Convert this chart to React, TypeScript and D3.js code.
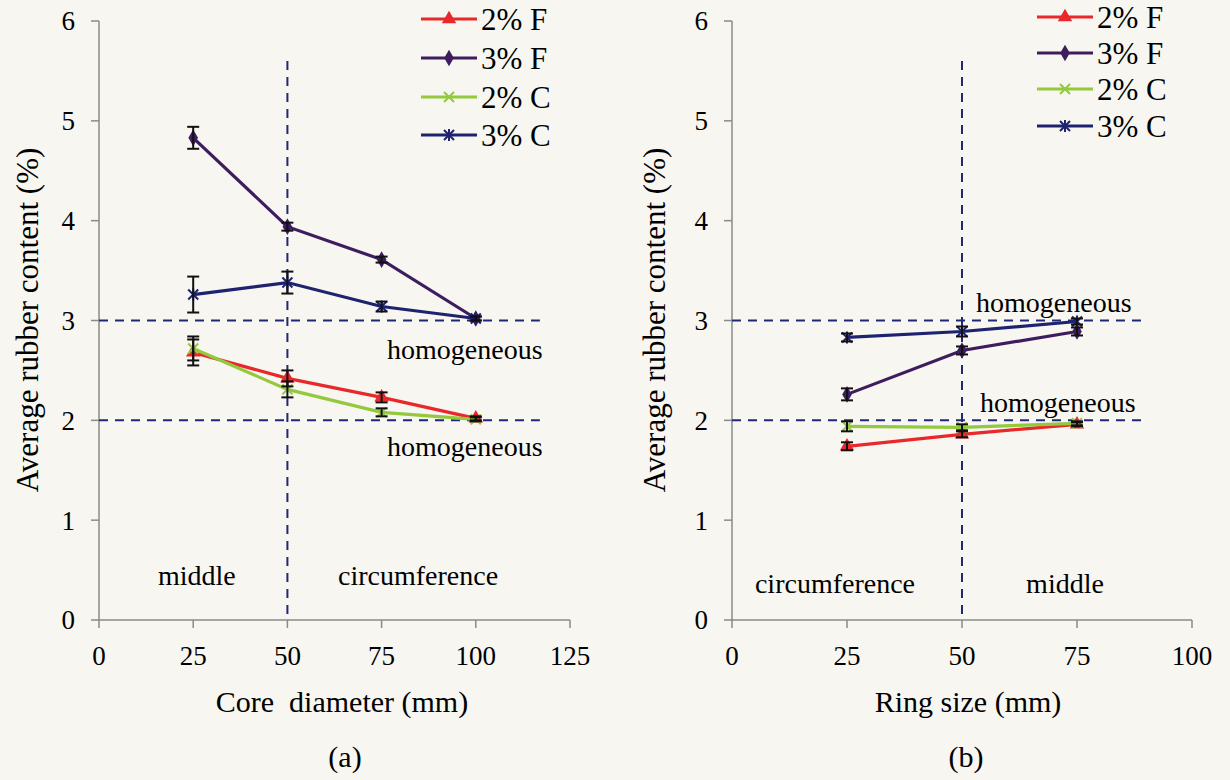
import React from 'react';
import * as d3 from 'd3';

const W = 1230;
const H = 780;

// ---------- Data ----------
const seriesNames = ['2% F', '3% F', '2% C', '3% C'];
const seriesColors = ['#e8282a', '#3e1d5e', '#94c83d', '#1e2370'];
const seriesMarkers = ['triangle', 'diamond', 'x', 'asterisk'];

// Panel (a): core diameter
const coreDiameter = [25, 50, 75, 100];
const a2F = [2.68, 2.42, 2.23, 2.02];
const a2FErr = [0.13, 0.08, 0.05, 0.02];
const a3F = [4.83, 3.94, 3.61, 3.02];
const a3FErr = [0.11, 0.04, 0.03, 0.02];
const a2C = [2.72, 2.31, 2.08, 2.01];
const a2CErr = [0.12, 0.08, 0.04, 0.02];
const a3C = [3.26, 3.38, 3.14, 3.02];
const a3CErr = [0.18, 0.11, 0.05, 0.02];

// Panel (b): ring size
const ringSize = [25, 50, 75];
const b2F = [1.74, 1.86, 1.96];
const b2FErr = [0.04, 0.03, 0.02];
const b3F = [2.26, 2.7, 2.89];
const b3FErr = [0.06, 0.04, 0.04];
const b2C = [1.94, 1.93, 1.97];
const b2CErr = [0.05, 0.03, 0.02];
const b3C = [2.83, 2.89, 2.99];
const b3CErr = [0.04, 0.05, 0.03];

const yTicks = [0, 1, 2, 3, 4, 5, 6];
const aXTicks = [0, 25, 50, 75, 100, 125];
const bXTicks = [0, 25, 50, 75, 100];

const FONT = "'Liberation Serif','Times New Roman',serif";
const DASH = '#1f2878';

function Marker({ type, x, y, color }: { type: string; x: number; y: number; color: string }) {
  const t = `translate(${x},${y})`;
  if (type === 'triangle') {
    return <path transform={t} d={d3.symbol(d3.symbolTriangle, 90)() as string} fill={color} />;
  }
  if (type === 'diamond') {
    return <path transform={t} d={d3.symbol(d3.symbolDiamond, 80)() as string} fill={color} />;
  }
  if (type === 'x') {
    return <path transform={t} d="M-5,-5L5,5M-5,5L5,-5" stroke={color} strokeWidth={2} fill="none" />;
  }
  return (
    <path transform={t} d="M-5,-5L5,5M-5,5L5,-5M0,-6L0,6" stroke={color} strokeWidth={2} fill="none" />
  );
}

type Series = { vals: number[]; errs: number[] };

function Panel(props: {
  xs: number[];
  series: Series[];
  xDomain: [number, number];
  xRange: [number, number];
  xTicks: number[];
  hEnd: number;
  legendX: number;
  legendYs: number[];
  xTitle: string;
  xTitleX: number;
  panelLabel: string;
  panelLabelX: number;
  yTitleX: number;
  texts: { t: string; x: number; y: number; anchor?: string }[];
}) {
  const x = d3.scaleLinear().domain(props.xDomain).range(props.xRange);
  const y = d3.scaleLinear().domain([0, 6]).range([620, 21]);
  const x0 = x(0);
  const line = d3
    .line<[number, number]>()
    .x((d) => x(d[0]))
    .y((d) => y(d[1]));

  return (
    <g fontFamily={FONT} fill="#000">
      {/* axes */}
      <line x1={x0} x2={x0} y1={y(0)} y2={y(6)} stroke="#8a8a8a" strokeWidth={1.5} />
      <line x1={x0} x2={x(props.xDomain[1])} y1={y(0)} y2={y(0)} stroke="#8a8a8a" strokeWidth={1.5} />
      {yTicks.map((v) => (
        <g key={'yt' + v}>
          <line x1={x0 - 8} x2={x0} y1={y(v)} y2={y(v)} stroke="#8a8a8a" strokeWidth={1.5} />
          <text x={x0 - 24} y={y(v)} dy="0.35em" textAnchor="end" fontSize={27}>
            {v}
          </text>
        </g>
      ))}
      {props.xTicks.map((v) => (
        <g key={'xt' + v}>
          <line x1={x(v)} x2={x(v)} y1={y(0)} y2={y(0) + 8} stroke="#8a8a8a" strokeWidth={1.5} />
          <text x={x(v)} y={665} textAnchor="middle" fontSize={27}>
            {v}
          </text>
        </g>
      ))}

      {/* reference lines */}
      {[2, 3].map((v) => (
        <line
          key={'h' + v}
          x1={x0}
          x2={x(props.hEnd)}
          y1={y(v)}
          y2={y(v)}
          stroke={DASH}
          strokeWidth={2}
          strokeDasharray="9,7"
        />
      ))}
      <line x1={x(50)} x2={x(50)} y1={y(5.6)} y2={y(0)} stroke={DASH} strokeWidth={2} strokeDasharray="9,7" />

      {/* series */}
      {props.series.map((s, i) => (
        <g key={'s' + i}>
          <path
            d={line(props.xs.map((xv, j) => [xv, s.vals[j]] as [number, number])) as string}
            fill="none"
            stroke={seriesColors[i]}
            strokeWidth={3.2}
          />
          {props.xs.map((xv, j) => (
            <Marker key={j} type={seriesMarkers[i]} x={x(xv)} y={y(s.vals[j])} color={seriesColors[i]} />
          ))}
        </g>
      ))}
      {props.series.map((s, i) => (
        <g key={'e' + i} stroke="#111" strokeWidth={2}>
          {props.xs.map((xv, j) => {
            const cx = x(xv);
            const y1 = y(s.vals[j] + s.errs[j]);
            const y2 = y(s.vals[j] - s.errs[j]);
            return (
              <g key={j}>
                <line x1={cx} x2={cx} y1={y1} y2={y2} />
                <line x1={cx - 6} x2={cx + 6} y1={y1} y2={y1} />
                <line x1={cx - 6} x2={cx + 6} y1={y2} y2={y2} />
              </g>
            );
          })}
        </g>
      ))}

      {/* legend */}
      {seriesNames.map((n, i) => {
        const ly = props.legendYs[i];
        const lx = props.legendX;
        return (
          <g key={'lg' + i}>
            <line x1={lx} x2={lx + 56} y1={ly} y2={ly} stroke={seriesColors[i]} strokeWidth={3.2} />
            <Marker type={seriesMarkers[i]} x={lx + 28} y={ly} color={seriesColors[i]} />
            <text x={lx + 60} y={ly} dy="0.35em" fontSize={31}>
              {n}
            </text>
          </g>
        );
      })}

      {/* annotations */}
      {props.texts.map((t, i) => (
        <text key={'t' + i} x={t.x} y={t.y} fontSize={28} textAnchor={t.anchor || 'start'}>
          {t.t}
        </text>
      ))}

      {/* titles */}
      <text
        transform={`translate(${props.yTitleX},320) rotate(-90)`}
        textAnchor="middle"
        fontSize={31}
      >
        Average rubber content (%)
      </text>
      <text x={props.xTitleX} y={712} textAnchor="middle" fontSize={30} style={{ whiteSpace: 'pre' }}>
        {props.xTitle}
      </text>
      <text x={props.panelLabelX} y={767} textAnchor="middle" fontSize={30}>
        {props.panelLabel}
      </text>
    </g>
  );
}

export default function App() {
  const seriesA: Series[] = [
    { vals: a2F, errs: a2FErr },
    { vals: a3F, errs: a3FErr },
    { vals: a2C, errs: a2CErr },
    { vals: a3C, errs: a3CErr },
  ];
  const seriesB: Series[] = [
    { vals: b2F, errs: b2FErr },
    { vals: b3F, errs: b3FErr },
    { vals: b2C, errs: b2CErr },
    { vals: b3C, errs: b3CErr },
  ];
  return (
    <svg
      width={W}
      height={H}
      viewBox={`0 0 ${W} ${H}`}
      style={{ position: 'absolute', left: 0, top: 0, display: 'block' }}
    >
      <rect width={W} height={H} fill="#f7f6f1" />
      <Panel
        xs={coreDiameter}
        series={seriesA}
        xDomain={[0, 125]}
        xRange={[99, 570]}
        xTicks={aXTicks}
        hEnd={117}
        legendX={421}
        legendYs={[19, 58, 97, 135]}
        xTitle={'Core  diameter (mm)'}
        xTitleX={342}
        panelLabel="(a)"
        panelLabelX={345}
        yTitleX={38}
        texts={[
          { t: 'homogeneous', x: 387, y: 359 },
          { t: 'homogeneous', x: 387, y: 456 },
          { t: 'middle', x: 158, y: 585 },
          { t: 'circumference', x: 338, y: 585 },
        ]}
      />
      <Panel
        xs={ringSize}
        series={seriesB}
        xDomain={[0, 100]}
        xRange={[732, 1192]}
        xTicks={bXTicks}
        hEnd={90}
        legendX={1037}
        legendYs={[17, 53, 89, 126]}
        xTitle="Ring size (mm)"
        xTitleX={968}
        panelLabel="(b)"
        panelLabelX={966}
        yTitleX={665}
        texts={[
          { t: 'homogeneous', x: 976, y: 312 },
          { t: 'homogeneous', x: 980, y: 412 },
          { t: 'circumference', x: 835, y: 593, anchor: 'middle' },
          { t: 'middle', x: 1065, y: 593, anchor: 'middle' },
        ]}
      />
    </svg>
  );
}
